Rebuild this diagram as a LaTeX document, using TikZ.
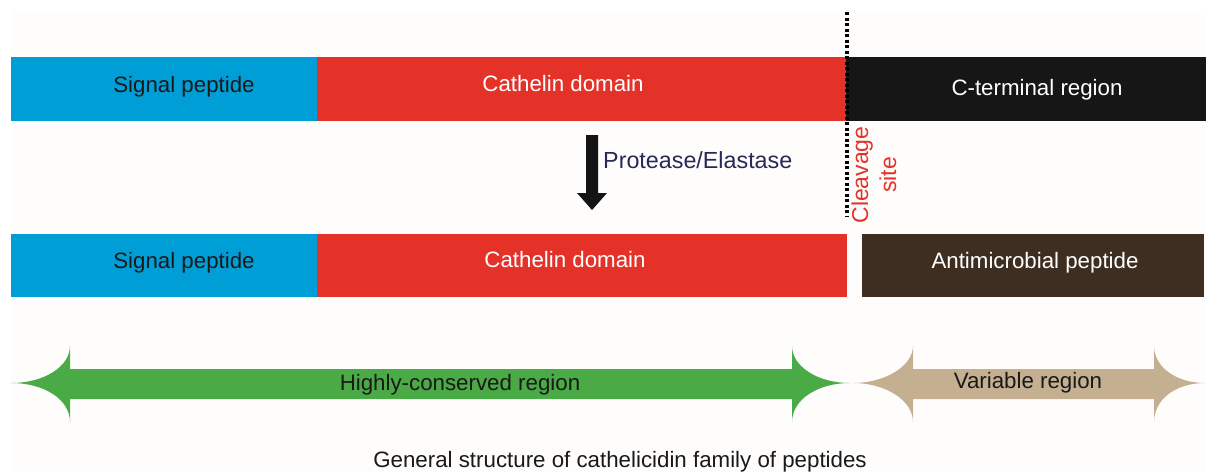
\documentclass[tikz,border=0pt]{standalone}
\usepackage{fontspec}
\setmainfont{Liberation Sans}
\definecolor{sigblue}{RGB}{0,158,214}
\definecolor{catred}{RGB}{228,50,41}
\definecolor{cterm}{RGB}{22,22,22}
\definecolor{ampbrown}{RGB}{62,46,34}
\definecolor{consgreen}{RGB}{74,170,70}
\definecolor{vartan}{RGB}{196,175,145}
\definecolor{navy}{RGB}{40,40,90}
\definecolor{bgwhite}{RGB}{254,253,252}
\begin{document}
\begin{tikzpicture}[x=1pt,y=-1pt,
  seg/.style={draw=none,rectangle,inner sep=0pt,outer sep=0pt,anchor=north west},
  lbl/.style={inner sep=0pt,anchor=base,font=\fontsize{22.3}{27}\selectfont},
  wlbl/.style={lbl,text=white},
  klbl/.style={lbl,text=black!90}]
\useasboundingbox (0,0) rectangle (1206,472);
\fill[white] (0,0) rectangle (1206,472);
\fill[bgwhite] (11,10) rectangle (1206,472);
% top bar
\node[seg,fill=sigblue,minimum width=306pt,minimum height=64pt] (s1) at (11,57) {};
\node[seg,fill=catred,minimum width=529pt,minimum height=64pt] (c1) at (317,57) {};
\node[seg,fill=cterm,minimum width=360pt,minimum height=64pt] (t1) at (846,57) {};
\node[klbl] (s1t) at (184,92) {Signal peptide};
\node[wlbl] (c1t) at (563,91) {Cathelin domain};
\node[wlbl] (t1t) at (1037,95) {C-terminal region};
% bottom bar
\node[seg,fill=sigblue,minimum width=306pt,minimum height=63pt] (s2) at (11,234) {};
\node[seg,fill=catred,minimum width=530pt,minimum height=63pt] (c2) at (317,234) {};
\node[seg,fill=ampbrown,minimum width=342pt,minimum height=63pt] (a2) at (862,234) {};
\node[klbl] (s2t) at (184,268) {Signal peptide};
\node[wlbl] (c2t) at (565,267) {Cathelin domain};
\node[wlbl] (a2t) at (1035,268) {Antimicrobial peptide};
% cleavage line
\coordinate (cvtop) at (847,12);
\coordinate (cvbot) at (847,216);
\draw[line width=3.5pt,dash pattern=on 3pt off 2.5pt,black] (cvtop) -- (cvbot);
\node[text=catred,inner sep=0pt,rotate=90,align=center,font=\fontsize{23}{28}\selectfont] (cs) at (874,175) {Cleavage\\site};
% protease arrow
\fill[black!92] (586,135) -- (598,135) -- (598,193) -- (607,193) -- (592,210) -- (577,193) -- (586,193) -- cycle;
\node[lbl,text=navy,anchor=base west,font=\fontsize{23.3}{27}\selectfont] (pe) at (603,168) {Protease/Elastase};
% green double arrow
\fill[consgreen] (11,383) .. controls (45,383) and (70,366) .. (70,346) -- (70,369) -- (792,369) -- (792,346)
  .. controls (792,366) and (817,383) .. (850,383) .. controls (817,383) and (792,400) .. (792,422)
  -- (792,399) -- (70,399) -- (70,422) .. controls (70,400) and (45,383) .. cycle;
\node[klbl] (hc) at (460,390) {Highly-conserved region};
% tan double arrow
\fill[vartan] (853,383) .. controls (885,383) and (913,366) .. (913,346) -- (913,369) -- (1154,369) -- (1154,346)
  .. controls (1154,366) and (1175,383) .. (1205,383) .. controls (1175,383) and (1154,400) .. (1154,422)
  -- (1154,399) -- (913,399) -- (913,422) .. controls (913,400) and (885,383) .. cycle;
\node[klbl] (vr) at (1028,388) {Variable region};
% title
\node[klbl] (title) at (620,467) {General structure of cathelicidin family of peptides};
\end{tikzpicture}
\end{document}
